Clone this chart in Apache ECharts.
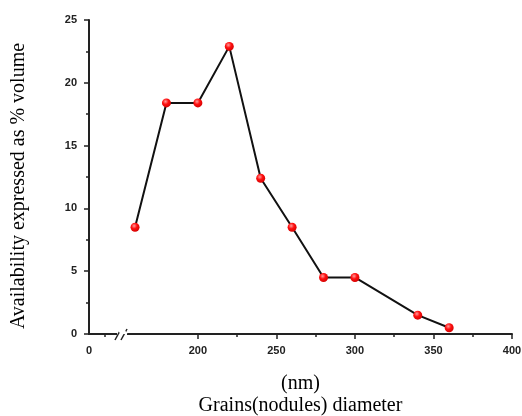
<!DOCTYPE html>
<html>
<head>
<meta charset="utf-8">
<script src="https://cdn.jsdelivr.net/npm/echarts@6/dist/echarts.min.js"></script>
<style>
html,body{margin:0;padding:0;background:#fff;}
#main{width:522px;height:416px;}
</style>
</head>
<body>
<div id="main"></div>
<script>
// grain diameter (nm) and availability (% volume)
var diameters = [160, 180, 200, 220, 240, 260, 280, 300, 340, 360];
var volumes = [8.5, 18.4, 18.4, 22.9, 12.4, 8.5, 4.5, 4.5, 1.5, 0.5];
var xTicks = [0, 200, 250, 300, 350, 400];

var pts = [];
for (var i = 0; i < diameters.length; i++) {
	pts.push([diameters[i], volumes[i]]);
}

var myChart = echarts.init(document.getElementById('main'));
var option = {
	animation: false,
	backgroundColor: '#fff',
	grid: { left: 89, right: 10, top: 20, bottom: 82, outerBoundsMode: 'none', containLabel: false },
	xAxis: {
		type: 'value',
		min: 0,
		max: 400,
		interval: 50,
		breaks: [{ start: 20, end: 155, gap: '1.6%' }],
		breakArea: {
			show: true,
			itemStyle: { color: '#fff', borderColor: 'rgba(0,0,0,0)', borderWidth: 0, opacity: 1 }
		},
		name: '(nm)\nGrains(nodules) diameter',
		nameLocation: 'middle',
		nameGap: 39,
		nameTextStyle: { fontFamily: 'Liberation Serif', fontSize: 20, color: '#000', lineHeight: 22 },
		axisLine: { lineStyle: { color: '#222', width: 2 } },
		axisTick: { inside: false, length: 5, lineStyle: { color: '#222', width: 1.5 } },
		minorTick: { show: true, splitNumber: 2, length: 3, lineStyle: { color: '#222', width: 1.5 } },
		axisLabel: {
			fontFamily: 'Liberation Sans', fontWeight: 'bold', fontSize: 11, color: '#222', margin: 11,
			formatter: function (v) { return xTicks.indexOf(Number(v)) >= 0 ? String(v) : ''; }
		},
		splitLine: { show: false }
	},
	yAxis: {
		type: 'value',
		min: 0,
		max: 25,
		interval: 5,
		axisLine: { show: true, lineStyle: { color: '#222', width: 2 } },
		axisTick: { inside: false, length: 5, lineStyle: { color: '#222', width: 1.5 } },
		minorTick: { show: true, splitNumber: 2, length: 3, lineStyle: { color: '#222', width: 1.5 } },
		axisLabel: { fontFamily: 'Liberation Sans', fontWeight: 'bold', fontSize: 11, color: '#222', margin: 12 },
		splitLine: { show: false }
	},
	graphic: [
		// y title
		{
			type: 'text', x: 19, y: 186, rotation: Math.PI / 2, z: 10,
			style: { text: 'Availability expressed as % volume', align: 'center', verticalAlign: 'middle',
				font: '20px "Liberation Serif"', fill: '#000' }
		},
		// x label at origin (the break hides it)
		{
			type: 'text', x: 89, y: 345, z: 10,
			style: { text: String(xTicks[0]), align: 'center', verticalAlign: 'top',
				font: 'bold 11px "Liberation Sans"', fill: '#222' }
		},
		// axis break sign //
		{ type: 'rect', shape: { x: 112, y: 331, width: 20, height: 12 }, style: { fill: '#fff' }, z: 10 },
		{ type: 'line', shape: { x1: 88, y1: 334, x2: 117, y2: 334 }, style: { stroke: '#222', lineWidth: 2 }, z: 11 },
		{ type: 'line', shape: { x1: 127, y1: 334, x2: 133, y2: 334 }, style: { stroke: '#222', lineWidth: 2 }, z: 11 },
		{ type: 'line', shape: { x1: 115, y1: 340, x2: 121, y2: 329 }, style: { stroke: '#222', lineWidth: 1.5 }, z: 11 },
		{ type: 'line', shape: { x1: 121, y1: 340, x2: 127, y2: 329 }, style: { stroke: '#222', lineWidth: 1.5 }, z: 11 },
		{ type: 'line', shape: { x1: 105, y1: 334, x2: 105, y2: 337 }, style: { stroke: '#222', lineWidth: 1.5 }, z: 11 }
	],
	series: [{
		type: 'line',
		data: pts,
		symbol: 'circle',
		symbolSize: 9,
		lineStyle: { color: '#111', width: 2 },
		itemStyle: {
			color: new echarts.graphic.RadialGradient(0.4, 0.35, 0.7, [
				{ offset: 0, color: '#ff9a9a' },
				{ offset: 0.45, color: '#ff1010' },
				{ offset: 1, color: '#d00000' }
			]),
			borderWidth: 0
		}
	}]
};
myChart.setOption(option);
</script>
</body>
</html>
